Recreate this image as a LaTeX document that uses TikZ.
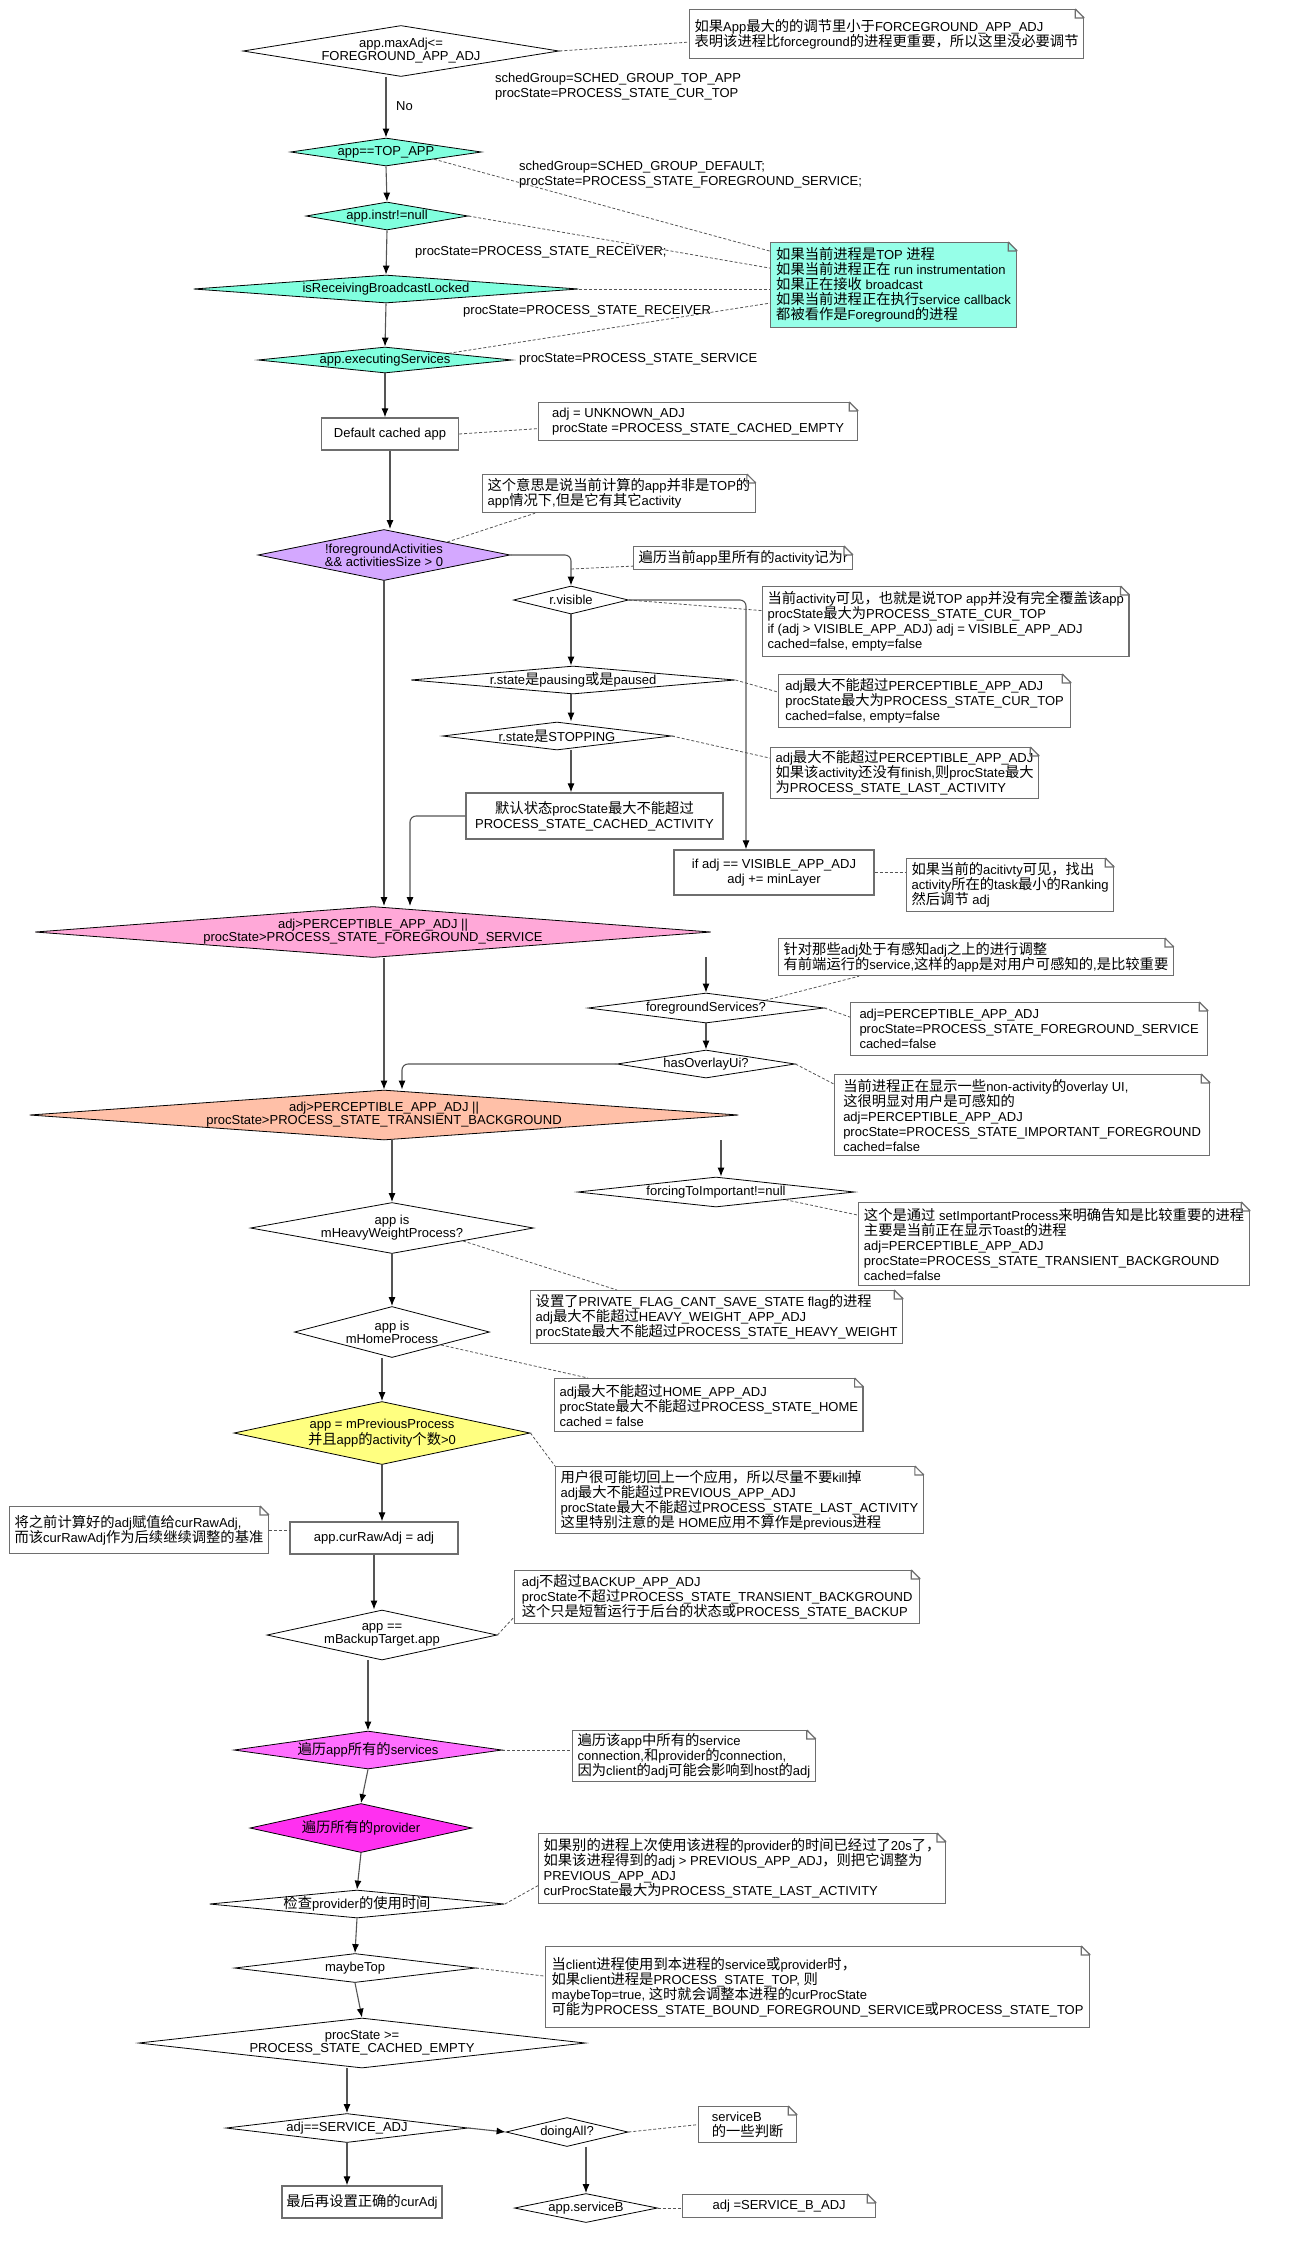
\documentclass[tikz,border=0pt]{standalone}
\usepackage{fontspec}
\setmainfont{Liberation Sans}
\newfontfamily\zhfont{Noto Sans CJK SC}[Scale=1.1]
\newcommand\latinfont{\rmfamily}
\usetikzlibrary{shapes.geometric,arrows.meta}

% Chinese runs are set in the CJK face, the rest in Liberation Sans
\XeTeXinterchartokenstate=1
\newXeTeXintercharclass\zhclass
\newcount\charidx
\charidx="21
\loop\XeTeXcharclass\charidx=0 \ifnum\charidx<"7E \advance\charidx by 1 \repeat
\charidx="3000
\loop\XeTeXcharclass\charidx=\zhclass\relax\ifnum\charidx<"303F \advance\charidx by 1 \repeat
\charidx="4E00
\loop\XeTeXcharclass\charidx=\zhclass\relax\ifnum\charidx<"9FFF \advance\charidx by 1 \repeat
\charidx="FF00
\loop\XeTeXcharclass\charidx=\zhclass\relax\ifnum\charidx<"FFEF \advance\charidx by 1 \repeat
\XeTeXinterchartoks 0 \zhclass = {\zhfont}
\XeTeXinterchartoks 4095 \zhclass = {\zhfont}
\XeTeXinterchartoks \zhclass 0 = {\latinfont}
\XeTeXinterchartoks \zhclass 4095 = {\latinfont}

\definecolor{aqua}{RGB}{128,255,222}
\definecolor{notecyan}{RGB}{150,255,232}
\definecolor{lilac}{RGB}{212,168,255}
\definecolor{rosepink}{RGB}{255,168,216}
\definecolor{salmon}{RGB}{255,192,168}
\definecolor{lemon}{RGB}{255,255,128}
\definecolor{orchid}{RGB}{255,110,255}
\definecolor{magent}{RGB}{255,48,240}
\definecolor{edgegray}{RGB}{85,85,85}
\definecolor{boxgray}{RGB}{110,110,110}

\begin{document}
\begin{tikzpicture}[
  x=1pt, y=-1pt,
  font=\fontsize{13}{15}\selectfont,
  % the diamond size comes from the two arguments only, not from its text
  dec/.style 2 args={diamond, draw=black, line width=0.8pt, fill=white,
    inner xsep=-300pt, inner ysep=-40pt,
    align=center, font=\fontsize{13}{13}\selectfont, minimum width=#1pt, minimum height=#2pt},
  proc/.style={draw=boxgray, line width=1.2pt, fill=white, align=center, inner sep=2pt},
  note/.style={draw=boxgray, line width=1.2pt, fill=white, align=left, anchor=north west,
    inner xsep=5pt, inner ysep=3pt},
  lbl/.style={inner sep=0pt, anchor=west, align=left},
  flow/.style={draw=edgegray, line width=1.1pt, -{Latex[length=9pt,width=7pt,color=black]}},
  link/.style={draw=edgegray, line width=0.8pt, dash pattern=on 3pt off 2pt},
  notefold/.style={draw=boxgray, line width=1.2pt}
]
\useasboundingbox (0,0) rectangle (1290,2263);

% main column
\node[dec={316}{51}] (maxadj) at (401,51) {app.maxAdj<=\\FOREGROUND\_APP\_ADJ};
\node[dec={191}{28}, fill=aqua] (istop) at (386,152) {app==TOP\_APP};
\node[dec={162}{28}, fill=aqua] (instr) at (387,216) {app.instr!=null};
\node[dec={385}{28}, fill=aqua] (recv) at (386,289) {isReceivingBroadcastLocked};
\node[dec={254}{26}, fill=aqua] (execsvc) at (385,360) {app.executingServices};
\node[proc, minimum width=137pt, minimum height=32pt] (defcached) at (390,434) {Default cached app};
\node[dec={252}{51}, fill=lilac] (hasacts) at (384,555) {!foregroundActivities\\\&\& activitiesSize > 0};
\node[dec={115}{28}] (visible) at (571,600) {r.visible};
\node[dec={324}{28}] (pausing) at (573,680) {r.state是pausing或是paused};
\node[dec={229}{28}] (stopping) at (557,736) {r.state是STOPPING};
\node[proc, minimum width=257pt, minimum height=46pt] (cachedact) at (594.5,816) {默认状态procState最大不能超过\\PROCESS\_STATE\_CACHED\_ACTIVITY};
\node[proc, minimum width=200pt, minimum height=45pt] (minlayer) at (774,872.5) {if adj == VISIBLE\_APP\_ADJ\\adj += minLayer};
\node[dec={676}{51}, fill=rosepink] (fgcheck) at (373,932) {adj>PERCEPTIBLE\_APP\_ADJ ||\\procState>PROCESS\_STATE\_FOREGROUND\_SERVICE};
\node[dec={236}{30}] (fgsvc) at (706,1008) {foregroundServices?};
\node[dec={178}{28}] (overlay) at (706,1064) {hasOverlayUi?};
\node[dec={709}{50}, fill=salmon] (bgcheck) at (384,1115) {adj>PERCEPTIBLE\_APP\_ADJ ||\\procState>PROCESS\_STATE\_TRANSIENT\_BACKGROUND};
\node[dec={277}{30}] (forcing) at (716,1192) {forcingToImportant!=null};
\node[dec={283}{51}] (heavy) at (392,1228) {app is\\mHeavyWeightProcess?};
\node[dec={195}{51}] (home) at (392,1332) {app is\\mHomeProcess};
\node[dec={296}{63}, fill=lemon] (previous) at (382,1433) {app = mPreviousProcess\\并且app的activity个数>0};
\node[proc, minimum width=168pt, minimum height=32pt] (rawadj) at (374,1538) {app.curRawAdj = adj};
\node[dec={230}{50}] (backup) at (382,1635) {app ==\\mBackupTarget.app};
\node[dec={268}{38}, fill=orchid] (services) at (368,1750) {遍历app所有的services};
\node[dec={222}{49}, fill=magent] (providers) at (361,1828) {遍历所有的provider};
\node[dec={295}{28}] (provtime) at (357,1904) {检查provider的使用时间};
\node[dec={241}{29}] (maybetop) at (355,1968) {maybeTop};
\node[dec={447}{50}] (cachedempty) at (362,2043) {procState >=\\PROCESS\_STATE\_CACHED\_EMPTY};
\node[dec={242}{29}] (svcadj) at (347,2128) {adj==SERVICE\_ADJ};
\node[dec={122}{29}] (doingall) at (567,2132) {doingAll?};
\node[dec={143}{29}] (servicebq) at (586,2208) {app.serviceB};
\node[proc, minimum width=160pt, minimum height=32pt] (curadj) at (362,2202) {最后再设置正确的curAdj};

% texts beside the flow
\node[lbl] (lblno) at (396,106) {No};
\node[lbl] (lbltop) at (495,86.5) {schedGroup=SCHED\_GROUP\_TOP\_APP\\procState=PROCESS\_STATE\_CUR\_TOP};
\node[lbl] (lbldefault) at (519,174.5) {schedGroup=SCHED\_GROUP\_DEFAULT;\\procState=PROCESS\_STATE\_FOREGROUND\_SERVICE;};
\node[lbl] (lblrecv) at (415,252) {procState=PROCESS\_STATE\_RECEIVER;};
\node[lbl] (lblrecvb) at (463,311) {procState=PROCESS\_STATE\_RECEIVER};
\node[lbl] (lblsvc) at (519,359) {procState=PROCESS\_STATE\_SERVICE};

% notes
\node[note, minimum width=374pt, minimum height=49pt] (capnote) at (689,9) {如果App最大的的调节里小于FORCEGROUND\_APP\_ADJ\\表明该进程比forceground的进程更重要，所以这里没必要调节};
\node[note, fill=notecyan, minimum width=246pt, minimum height=85pt] (fgnote) at (770,242) {如果当前进程是TOP 进程\\如果当前进程正在 run instrumentation\\如果正在接收 broadcast\\如果当前进程正在执行service callback\\都被看作是Foreground的进程};
\node[note, minimum width=319pt, minimum height=38pt] (cachednote) at (538,402) {adj = UNKNOWN\_ADJ\\procState =PROCESS\_STATE\_CACHED\_EMPTY};
\node[note, minimum width=262pt, minimum height=38pt] (topnote) at (482,474) {这个意思是说当前计算的app并非是TOP的\\app情况下,但是它有其它activity};
\node[note, minimum width=215pt, minimum height=23pt] (loopnote) at (633,546) {遍历当前app里所有的activity记为r};
\node[note, minimum width=359pt, minimum height=70pt] (visnote) at (762,586) {当前activity可见，也就是说TOP app并没有完全覆盖该app\\procState最大为PROCESS\_STATE\_CUR\_TOP\\if (adj > VISIBLE\_APP\_ADJ) adj = VISIBLE\_APP\_ADJ\\cached=false, empty=false};
\node[note, minimum width=292pt, minimum height=53pt] (pausenote) at (778,674) {adj最大不能超过PERCEPTIBLE\_APP\_ADJ\\procState最大为PROCESS\_STATE\_CUR\_TOP\\cached=false, empty=false};
\node[note, minimum width=268pt, minimum height=51pt] (stopnote) at (770,747) {adj最大不能超过PERCEPTIBLE\_APP\_ADJ\\如果该activity还没有finish,则procState最大\\为PROCESS\_STATE\_LAST\_ACTIVITY};
\node[note, minimum width=207pt, minimum height=53pt] (ranknote) at (906,858) {如果当前的acitivty可见，找出\\activity所在的task最小的Ranking\\然后调节 adj};
\node[note, minimum width=374pt, minimum height=37pt] (fgsvcnote) at (778,938) {针对那些adj处于有感知adj之上的进行调整\\有前端运行的service,这样的app是对用户可感知的,是比较重要};
\node[note, minimum width=357pt, minimum height=53pt] (percnote) at (850,1002) {adj=PERCEPTIBLE\_APP\_ADJ\\procState=PROCESS\_STATE\_FOREGROUND\_SERVICE\\cached=false};
\node[note, minimum width=375pt, minimum height=81pt] (overlaynote) at (834,1074) {当前进程正在显示一些non-activity的overlay UI,\\这很明显对用户是可感知的\\adj=PERCEPTIBLE\_APP\_ADJ\\procState=PROCESS\_STATE\_IMPORTANT\_FOREGROUND\\cached=false};
\node[note, minimum width=391pt, minimum height=83pt] (importantnote) at (858,1202) {这个是通过 setImportantProcess来明确告知是比较重要的进程\\主要是当前正在显示Toast的进程\\adj=PERCEPTIBLE\_APP\_ADJ\\procState=PROCESS\_STATE\_TRANSIENT\_BACKGROUND\\cached=false};
\node[note, minimum width=372pt, minimum height=53pt] (heavynote) at (530,1290) {设置了PRIVATE\_FLAG\_CANT\_SAVE\_STATE flag的进程\\adj最大不能超过HEAVY\_WEIGHT\_APP\_ADJ\\procState最大不能超过PROCESS\_STATE\_HEAVY\_WEIGHT};
\node[note, minimum width=308pt, minimum height=53pt] (homenote) at (554,1378) {adj最大不能超过HOME\_APP\_ADJ\\procState最大不能超过PROCESS\_STATE\_HOME\\cached = false};
\node[note, minimum width=366pt, minimum height=67pt] (prevnote) at (555,1466) {用户很可能切回上一个应用，所以尽量不要kill掉\\adj最大不能超过PREVIOUS\_APP\_ADJ\\procState最大不能超过PROCESS\_STATE\_LAST\_ACTIVITY\\这里特别注意的是 HOME应用不算作是previous进程};
\node[note, minimum width=251pt, minimum height=47pt] (rawnote) at (9,1506) {将之前计算好的adj赋值给curRawAdj,\\而该curRawAdj作为后续继续调整的基准};
\node[note, minimum width=405pt, minimum height=53pt] (backupnote) at (514,1570) {adj不超过BACKUP\_APP\_ADJ\\procState不超过PROCESS\_STATE\_TRANSIENT\_BACKGROUND\\这个只是短暂运行于后台的状态或PROCESS\_STATE\_BACKUP};
\node[note, minimum width=238pt, minimum height=49pt] (connnote) at (572,1730) {遍历该app中所有的service\\connection,和provider的connection,\\因为client的adj可能会影响到host的adj};
\node[note, minimum width=385pt, minimum height=70pt] (provnote) at (538,1833) {如果别的进程上次使用该进程的provider的时间已经过了20s了，\\如果该进程得到的adj > PREVIOUS\_APP\_ADJ，则把它调整为\\PREVIOUS\_APP\_ADJ\\curProcState最大为PROCESS\_STATE\_LAST\_ACTIVITY};
\node[note, minimum width=544pt, minimum height=81pt] (topclientnote) at (545,1946) {当client进程使用到本进程的service或provider时，\\如果client进程是PROCESS\_STATE\_TOP, 则\\maybeTop=true, 这时就会调整本进程的curProcState\\可能为PROCESS\_STATE\_BOUND\_FOREGROUND\_SERVICE或PROCESS\_STATE\_TOP};
\node[note, minimum width=98pt, minimum height=36pt] (svcbnote) at (698,2106) {serviceB\\的一些判断};
\node[note, minimum width=193pt, minimum height=23pt] (svcbadjnote) at (682,2194) {adj =SERVICE\_B\_ADJ};

% folded corners
\foreach \n in {capnote,fgnote,cachednote,topnote,loopnote,visnote,pausenote,stopnote,ranknote,
    fgsvcnote,percnote,overlaynote,importantnote,heavynote,homenote,prevnote,rawnote,backupnote,
    connnote,provnote,topclientnote,svcbnote,svcbadjnote} {
  \fill[white] ([xshift=-9pt,yshift=1pt]\n.north east) -- ([xshift=1pt,yshift=1pt]\n.north east)
    -- ([xshift=1pt,yshift=-9pt]\n.north east) -- cycle;
  \draw[notefold] ([xshift=-9pt]\n.north east) -- ([yshift=-9pt]\n.north east)
    ([xshift=-9pt]\n.north east) |- ([yshift=-9pt]\n.north east);
}

% free ends
\coordinate (loopcorner) at (571,569);
\coordinate (fgsvcin) at (706,957);
\coordinate (forcingin) at (721,1140);

% flow
\draw[flow] (maxadj.south -| istop.north) -- (istop.north);
\draw[flow] (istop.south) -- (instr.north);
\draw[flow] (instr.south) -- (recv.north);
\draw[flow] (recv.south) -- (execsvc.north);
\draw[flow] (execsvc.south) -- (execsvc.south |- defcached.north);
\draw[flow] (defcached.south) -- (defcached.south |- hasacts.north);
\draw[flow, rounded corners=6pt] (hasacts.east) -| (visible.north);
\draw[flow, rounded corners=6pt] (visible.east) -| ([xshift=-28pt]minlayer.north);
\draw[flow] (visible.south) -- (visible.south |- pausing.north);
\draw[flow] (visible.south |- pausing.south) -- (visible.south |- stopping.north);
\draw[flow] (visible.south |- stopping.south) -- (visible.south |- cachedact.north);
\draw[flow, rounded corners=6pt] (cachedact.west) -| ([xshift=37pt]fgcheck.north);
\draw[flow] (hasacts.south) -- (hasacts.south |- fgcheck.north);
\draw[flow] (bgcheck.north |- fgcheck.south) -- (bgcheck.north);
\draw[flow] (fgsvcin) -- (fgsvc.north);
\draw[flow] (fgsvc.south) -- (overlay.north);
\draw[flow, rounded corners=6pt] (overlay.west) -| ([xshift=18pt]bgcheck.north);
\draw[flow] (forcingin) -- (forcingin |- forcing.north);
\draw[flow] (heavy.north |- bgcheck.south) -- (heavy.north);
\draw[flow] (heavy.south) -- (home.north);
\draw[flow] (previous.north |- home.south) -- (previous.north);
\draw[flow] (previous.south) -- (previous.south |- rawadj.north);
\draw[flow] (rawadj.south) -- (rawadj.south |- backup.north);
\draw[flow] (services.north |- backup.south) -- (services.north);
\draw[flow] (services.south) -- (providers.north);
\draw[flow] (providers.south) -- (provtime.north);
\draw[flow] (provtime.south) -- (maybetop.north);
\draw[flow] (maybetop.south) -- (cachedempty.north);
\draw[flow] (svcadj.north |- cachedempty.south) -- (svcadj.north);
\draw[flow] (svcadj.east) -- (doingall.west);
\draw[flow] (servicebq.north |- doingall.south) -- (servicebq.north);
\draw[flow] (svcadj.south) -- (svcadj.south |- curadj.north);

% note links
\draw[link] (maxadj.east) -- ([yshift=-8pt]capnote.west);
\draw[link] (istop.south east) -- ([yshift=34pt]fgnote.west);
\draw[link] (instr.east) -- ([yshift=17pt]fgnote.west);
\draw[link] (recv.east) -- (recv.east -| fgnote.west);
\draw[link] (execsvc.north east) -- ([yshift=-18pt]fgnote.west);
\draw[link] (defcached.east) -- ([yshift=-7pt]cachednote.west);
\draw[link] (hasacts.north east) -- ([xshift=53pt]topnote.south west);
\draw[link] (loopcorner) -- ([yshift=-8pt]loopnote.west);
\draw[link] (visible.east) -- ([yshift=11pt]visnote.west);
\draw[link] (pausing.east) -- ([yshift=9pt]pausenote.west);
\draw[link] (stopping.east) -- ([yshift=15pt]stopnote.west);
\draw[link] (minlayer.east) -- (minlayer.east -| ranknote.west);
\draw[link] (fgsvc.north east) -- ([xshift=81pt]fgsvcnote.south west);
\draw[link] (fgsvc.east) -- ([yshift=12pt]percnote.west);
\draw[link] (overlay.east) -- ([yshift=31pt]overlaynote.west);
\draw[link] (forcing.south east) -- ([yshift=29pt]importantnote.west);
\draw[link] (heavy.south east) -- ([xshift=87pt]heavynote.north west);
\draw[link] (home.south east) -- ([xshift=34pt]homenote.north west);
\draw[link] (previous.east) -- (prevnote.north west);
\draw[link] (rawnote.east) -- (rawnote.east -| rawadj.west);
\draw[link] (backup.east) -- ([yshift=-20pt]backupnote.west);
\draw[link] (services.east) -- (services.east -| connnote.west);
\draw[link] (provtime.east) -- ([yshift=-17pt]provnote.west);
\draw[link] (maybetop.east) -- ([yshift=11pt]topclientnote.west);
\draw[link] (doingall.east) -- (svcbnote.west);
\draw[link] (servicebq.east) -- (servicebq.east -| svcbadjnote.west);
\end{tikzpicture}
\end{document}
